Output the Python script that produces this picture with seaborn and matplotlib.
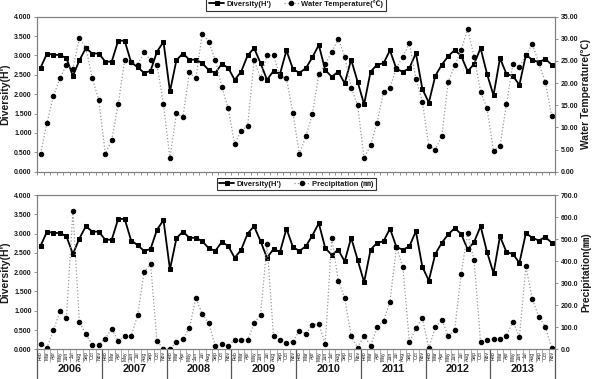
import numpy as np
import pandas as pd
import matplotlib
matplotlib.use('Agg')
import matplotlib.pyplot as plt
import matplotlib.transforms as mtransforms
from matplotlib.ticker import FormatStrFormatter, FixedLocator, NullFormatter
import seaborn as sns

years = ['2006', '2007', '2008', '2009', '2010', '2011', '2012', '2013']
months = ['Feb', 'Mar', 'Apr', 'May', 'Jun', 'Jul', 'Aug', 'Sep', 'Oct', 'Nov']

diversity = [
    2.68, 3.05, 3.02, 3.01, 2.93, 2.47, 2.87, 3.19, 3.05, 3.05,
    2.84, 2.84, 3.38, 3.38, 2.82, 2.70, 2.55, 2.60, 3.10, 3.35,
    2.07, 2.88, 3.05, 2.89, 2.89, 2.80, 2.62, 2.55, 2.78, 2.68,
    2.37, 2.58, 3.00, 3.19, 2.80, 2.37, 2.60, 2.52, 3.13, 2.65,
    2.55, 2.67, 2.95, 3.27, 2.62, 2.45, 2.58, 2.28, 2.89, 2.32,
    1.74, 2.58, 2.76, 2.80, 3.13, 2.65, 2.58, 2.67, 3.06, 2.14,
    1.78, 2.47, 2.76, 2.98, 3.14, 2.99, 2.59, 2.78, 3.19, 2.52,
    1.97, 2.93, 2.52, 2.47, 2.24, 3.01, 2.89, 2.82, 2.91, 2.76,
]
water_temp = [
    4.1, 11.1, 17.1, 21.1, 24.1, 23.3, 30.1, 28.0, 21.1, 16.2,
    4.1, 7.1, 15.2, 25.2, 24.8, 24.1, 27.1, 25.2, 24.1, 15.2,
    3.0, 13.2, 12.3, 22.4, 21.1, 31.2, 29.4, 25.2, 19.2, 14.3,
    6.2, 9.3, 10.3, 25.2, 21.1, 26.3, 26.3, 21.5, 21.1, 13.2,
    4.0, 8.0, 13.0, 22.0, 24.3, 27.0, 30.0, 26.0, 19.0, 15.0,
    3.0, 6.0, 11.0, 18.0, 19.0, 23.5, 26.0, 29.0, 21.0, 15.8,
    5.8, 5.0, 8.0, 20.2, 24.0, 27.5, 32.2, 26.0, 18.1, 14.3,
    4.6, 5.8, 15.3, 24.3, 23.7, 26.3, 28.9, 24.5, 20.2, 12.5,
]
precipitation = [
    26, 8, 86, 174, 142, 626, 124, 68, 21, 21,
    48, 94, 38, 60, 60, 154, 350, 388, 36, 2,
    2, 31, 48, 95, 232, 160, 118, 16, 24, 13,
    44, 44, 42, 118, 156, 478, 60, 44, 27, 35,
    85, 70, 112, 115, 24, 506, 312, 232, 60, 8,
    62, 16, 100, 128, 215, 465, 372, 31, 95, 142,
    5, 100, 133, 60, 88, 342, 527, 403, 31, 42,
    47, 47, 62, 126, 57, 376, 228, 147, 103, 5,
]

sns.set_theme(style='white')
plt.rcParams['font.family'] = ['Liberation Sans', 'Noto Sans CJK KR', 'DejaVu Sans']
plt.rcParams['font.weight'] = 'bold'
plt.rcParams['axes.unicode_minus'] = False

n = len(diversity)
labels_x = [m for _ in years for m in months]
df = pd.DataFrame({'idx': np.arange(n), 'div': diversity,
                   'temp': water_temp, 'prec': precipitation})

W, H = 593, 379
fig = plt.figure(figsize=(W / 100, H / 100), dpi=100)


def rect(l, t, r, b):
    return [l / W, 1 - b / H, (r - l) / W, (b - t) / H]


ax_top = fig.add_axes(rect(37.3, 16.7, 555, 171.7))
ax_bot = fig.add_axes(rect(37.3, 195, 555, 349.3))

spine_c = '#808080'
txt_c = '#1a1a1a'


def style_axis(a):
    for s in a.spines.values():
        s.set_color(spine_c)
        s.set_linewidth(0.8)
        s.set_visible(True)


def panel(ax, col, ymax2, step2, fmt2, ylabel2, leg2, leg_y):
    sns.lineplot(data=df, x='idx', y='div', ax=ax, color='black', lw=1.3,
                 marker='s', markersize=3.2, markeredgecolor='black',
                 markerfacecolor='black', label="Diversity(H')", legend=False)
    axr = ax.twinx()
    sns.lineplot(data=df, x='idx', y=col, ax=axr, color='#9a9a9a', lw=0.9,
                 linestyle=':', marker='o', markersize=3.2,
                 markeredgecolor='black', markerfacecolor='black',
                 label=leg2, legend=False)
    ax.set_xlim(-0.5, n - 0.5)
    ax.set_ylim(0, 4)
    axr.set_ylim(0, ymax2)
    ax.set_yticks(np.arange(0, 4.01, 0.5))
    ax.yaxis.set_major_formatter(FormatStrFormatter('%.3f'))
    axr.set_yticks(np.arange(0, ymax2 + 0.01, step2))
    axr.yaxis.set_major_formatter(FormatStrFormatter(fmt2))
    for a in (ax, axr):
        style_axis(a)
        a.tick_params(axis='y', labelsize=5, colors=txt_c, length=2.5,
                      width=0.6, pad=1.5, direction='out')
        a.tick_params(axis='y', colors=spine_c, labelcolor=txt_c)
    ax.tick_params(axis='y', left=True, right=False)
    axr.tick_params(axis='y', right=True, left=False)
    ax.set_ylabel("Diversity(H')", fontsize=7.6, fontweight='bold',
                  color=txt_c, labelpad=3)
    axr.set_ylabel(ylabel2, fontsize=7.4, fontweight='bold', color=txt_c,
                   labelpad=2)
    ax.set_xlabel('')
    axr.set_xlabel('')
    h1 = ax.get_lines()[0]
    h2 = axr.get_lines()[0]
    leg = axr.legend([h1, h2], ["Diversity(H')", leg2], ncol=2,
                     loc='lower center', bbox_to_anchor=(0.5, leg_y),
                     fontsize=5.5, frameon=True, fancybox=False,
                     edgecolor='#333333', framealpha=1, borderpad=0.35,
                     handlelength=2.0, handletextpad=0.3, columnspacing=1.6,
                     borderaxespad=0)
    leg.get_frame().set_linewidth(0.8)
    for t in leg.get_texts():
        t.set_color(txt_c)
    return axr


panel(ax_top, 'temp', 35, 5, '%.2f', 'Water Temperature(℃)',
      'Water Temperature(℃)', 1.04)
panel(ax_bot, 'prec', 700, 100, '%.1f', 'Precipitation(㎜)',
      'Precipitation (㎜)', 1.03)

# top panel: small category tick marks
ax_top.xaxis.set_major_locator(FixedLocator(np.arange(-0.5, n, 1.0)))
ax_top.xaxis.set_major_formatter(NullFormatter())
ax_top.tick_params(axis='x', bottom=True, length=2.5, width=0.6,
                   colors=spine_c, direction='out')

# bottom panel: month labels in cells, year row beneath
ax_bot.set_xticks(np.arange(n))
ax_bot.set_xticklabels(labels_x, rotation=90, fontsize=3.6,
                       fontweight='normal')
ax_bot.tick_params(axis='x', which='major', length=0, pad=1.5,
                   labelcolor=txt_c)
ax_bot.xaxis.set_minor_locator(FixedLocator(np.arange(-0.5, n, 1.0)))
ax_bot.tick_params(axis='x', which='minor', bottom=True, length=9.2,
                   width=0.5, color='#8c8c8c', direction='out')

trans = mtransforms.blended_transform_factory(ax_bot.transData,
                                              ax_bot.transAxes)
for k in range(len(years) + 1):
    xb = k * len(months) - 0.5
    ax_bot.plot([xb, xb], [0, -0.22], transform=trans, clip_on=False,
                color='#555555', lw=0.9)
for k, yr in enumerate(years):
    ax_bot.text(k * len(months) + (len(months) - 1) / 2, -0.125, yr,
                transform=trans, ha='center', va='center', fontsize=7.8,
                fontweight='bold', color=txt_c)

fig.savefig('out.png', dpi=100)
